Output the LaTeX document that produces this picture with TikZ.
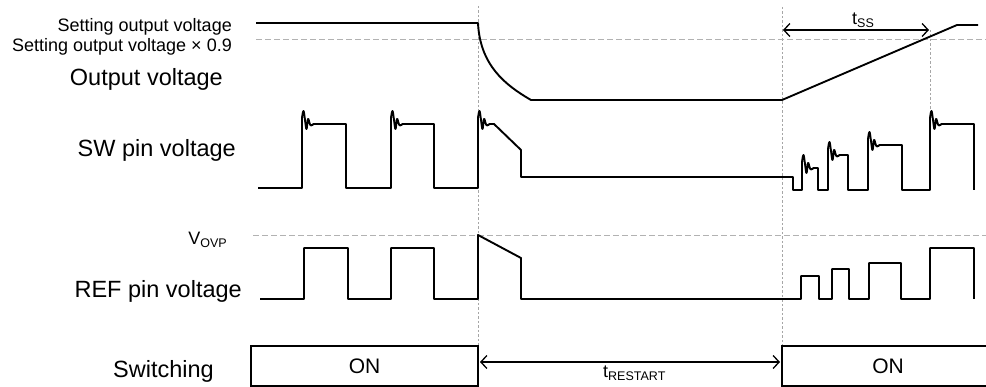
\documentclass[tikz,border=0pt]{standalone}
\usepackage{fontspec}
\setmainfont{Liberation Sans}
\usetikzlibrary{arrows.meta}
\newcommand\rng[2]{-- plot[smooth,tension=.7] coordinates {(#1,#2-6) (#1+1.5,#2-13) (#1+3,#2-4) (#1+4.5,#2+5) (#1+6,#2-5) (#1+7.5,#2-1) (#1+9,#2+1.5) (#1+11.5,#2)}}
\newcommand\lowtxt[1]{\raisebox{-2.5pt}{\fontsize{12.5}{13}\selectfont #1}}
\tikzset{
    wave/.style={line width=1.9pt, line join=round},
    guide/.style={gray!70, line width=0.8pt, dash pattern=on 2.5pt off 2pt},
    level/.style={gray!60, line width=1pt, dash pattern=on 6pt off 3pt},
    small/.style={font=\fontsize{18}{20}\selectfont, inner sep=0, anchor=base east},
    big/.style={font=\fontsize{23.5}{26}\selectfont, inner sep=0, anchor=base east},
    dim/.style={line width=1.3pt, {Straight Barb[length=6pt,width=13pt]}-{Straight Barb[length=6pt,width=13pt]}},
    onbox/.style={draw, line width=1.8pt, minimum width=#1, minimum height=40pt, inner sep=0, font=\fontsize{21}{24}\selectfont}
}

\begin{document}
\begin{tikzpicture}[x=1pt, y=-1pt]
    \useasboundingbox (0,0) rectangle (986,387);
    \coordinate (offT) at (478,6);
    \coordinate (offB) at (478,386);
    \coordinate (onT) at (782,7);
    \coordinate (onB) at (782,386);
    \coordinate (ssT) at (930,30);
    \coordinate (ssB) at (930,113);
    \draw[guide] (offT) -- (offB);
    \draw[guide] (onT) -- (onB);
    \draw[guide] (ssT) -- (ssB);
    \draw[level] (256,40) -- (986,40);
    \draw[level] (253,236) -- (986,236);

    \node[small] (lvset) at (232,32) {Setting output voltage};
    \node[small] (lv90) at (232,51.5) {Setting output voltage × 0.9};
    \node[big] (lvout) at (223,86) {Output voltage};
    \node[big] (lsw) at (236,156.5) {SW pin voltage};
    \node[small] (lovp) at (227,245) {V\lowtxt{OVP}};
    \node[big] (lref) at (242,298) {REF pin voltage};
    \node[big] (lswitch) at (214,378) {Switching};

    \draw[wave] (256,23) -- (478,23) .. controls (480,65) and (505,85) .. (531,100) -- (782,100) -- (957,25) -- (978,25);
    \draw[wave] (258,188) -- (302,188) \rng{302}{124} -| (346,188) -- (391,188) \rng{391}{124} -| (434,188)
        -- (478,188) \rng{478}{124} -- (494,124) -- (521,150) -- (521,177) -| (793,190) -- (802,190) \rng{802}{168}
        -| (818,190) -- (828,190) \rng{828}{155} -| (848,190) -- (868,190) \rng{868}{145} -| (902,190)
        -- (930,190) \rng{930}{124} -| (974,190);
    \draw[wave] (260,299) -| (304,248) -| (348,299) -| (391,248) -| (434,299) -| (478,235) -- (521,258) -- (521,299)
        -| (801,276) -| (819,299) -| (832,269) -| (849,299) -| (869,263) -| (901,299) -| (930,248) -| (974,299);

    \node[onbox=227pt] (on1) at (364.5,366) {ON};
    \node[onbox=212pt] (on2) at (888,366) {ON};

    \coordinate (ssA) at (783,30);
    \coordinate (ssZ) at (929,30);
    \draw[dim] (ssA) -- (ssZ);
    \node[small, anchor=base west] (tss) at (852,25) {t\lowtxt{SS}};
    \coordinate (rsA) at (480,362);
    \coordinate (rsZ) at (780,362);
    \draw[dim] (rsA) -- (rsZ);
    \node[small, anchor=base west] (trs) at (603,378) {t\lowtxt{RESTART}};
\end{tikzpicture}
\end{document}
